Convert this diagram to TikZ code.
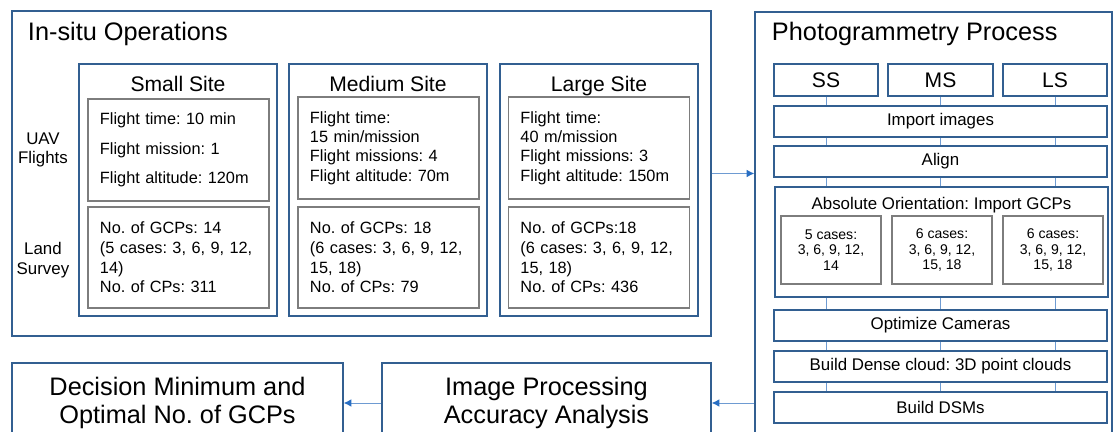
\documentclass[tikz,border=0pt]{standalone}
\usepackage{fontspec}
\setmainfont{Liberation Sans}
\usetikzlibrary{arrows.meta}
\definecolor{boxblue}{RGB}{50,95,145}
\definecolor{linkblue}{RGB}{110,155,210}
\definecolor{arrowblue}{RGB}{40,110,195}
\definecolor{innergray}{RGB}{125,125,125}

\begin{document}
\frenchspacing
\begin{tikzpicture}[x=0.025cm, y=-0.025cm,
  frame/.style={draw=boxblue, line width=0.9pt},
  grayframe/.style={draw=innergray, line width=0.9pt},
  info/.style={grayframe, minimum width=4.525cm, minimum height=2.55cm,
    text width=3.925cm, inner xsep=0.3cm, align=left},
  stage/.style={frame, minimum width=8.325cm, minimum height=0.775cm,
    font=\fontsize{12}{14}\selectfont},
  sitebox/.style={frame, minimum width=2.6cm, minimum height=0.8cm,
    font=\fontsize{15}{17}\selectfont},
  casebox/.style={grayframe, minimum width=2.5cm, minimum height=1.7cm,
    align=center, font=\fontsize{10}{11}\selectfont},
  bigbox/.style={frame, minimum height=2cm, align=center,
    font=\fontsize{18}{20}\selectfont},
  link/.style={draw=linkblue, line width=0.6pt},
  arr/.style={draw=linkblue, line width=0.7pt,
    -{Latex[length=5.5pt,width=5.5pt,color=arrowblue]}}]

\useasboundingbox (0,0) rectangle (1113,432);
\clip (0,0) rectangle (1113,432);

% In-situ operations
\node[frame, minimum width=17.475cm, minimum height=8.125cm]
(insitu) at (361.5,173.5) {};
\node[anchor=base west, font=\fontsize{18}{20}\selectfont]
(insitutitle) at (23,41) {In-situ Operations};

\node[align=center, font=\fontsize{12}{14}\selectfont]
(uavlabel) at (43,150) {UAV\\Flights};
\node[align=center, font=\fontsize{12}{14}\selectfont]
(landlabel) at (43,260) {Land\\Survey};

% Small site
\node[frame, minimum width=4.95cm, minimum height=6.3cm]
(small) at (178,190) {};
\node[anchor=base, font=\fontsize{15}{17}\selectfont]
(smalltitle) at (178,92) {Small Site};
\node[info, font=\fontsize{11.6}{14}\selectfont]
(smalluav) at (178.5,150)
{Flight time: 10 min\\[7pt]Flight mission: 1\\[7pt]Flight altitude: 120m};
\node[info, minimum height=2.525cm, font=\fontsize{11.6}{14}\selectfont]
(smallland) at (178.5,257.5)
{No. of GCPs: 14\\(5 cases: 3, 6, 9, 12,\\14)\\No. of CPs: 311};

% Medium site
\node[frame, minimum width=4.95cm, minimum height=6.3cm]
(medium) at (388,190) {};
\node[anchor=base, font=\fontsize{15}{17}\selectfont]
(mediumtitle) at (388,92) {Medium Site};
\node[info, font=\fontsize{11.6}{13.7}\selectfont]
(mediumuav) at (388.5,148)
{Flight time:\\15 min/mission\\Flight missions: 4\\Flight altitude: 70m};
\node[info, minimum height=2.525cm, font=\fontsize{11.6}{14}\selectfont]
(mediumland) at (388.5,257.5)
{No. of GCPs: 18\\(6 cases: 3, 6, 9, 12,\\15, 18)\\No. of CPs: 79};

% Large site
\node[frame, minimum width=4.95cm, minimum height=6.3cm]
(large) at (599,190) {};
\node[anchor=base, font=\fontsize{15}{17}\selectfont]
(largetitle) at (599,92) {Large Site};
\node[info, font=\fontsize{11.6}{13.7}\selectfont]
(largeuav) at (599,148)
{Flight time:\\40 m/mission\\Flight missions: 3\\Flight altitude: 150m};
\node[info, minimum height=2.525cm, font=\fontsize{11.6}{14}\selectfont]
(largeland) at (599,257.5)
{No. of GCPs:18\\(6 cases: 3, 6, 9, 12,\\15, 18)\\No. of CPs: 436};

% Photogrammetry process
\node[frame, minimum width=8.925cm, minimum height=10.95cm]
(photo) at (933.5,231) {};
\node[anchor=base west, font=\fontsize{18}{20}\selectfont]
(phototitle) at (767,41) {Photogrammetry Process};

\node[sitebox] (ss) at (826,80) {SS};
\node[sitebox, minimum width=2.625cm] (ms) at (940.5,80) {MS};
\node[sitebox] (ls) at (1055,80) {LS};

\node[stage] (import) at (940.5,121.5) {Import images};
\node[stage] (align) at (940.5,161.5) {Align};

\node[frame, minimum width=8.325cm, minimum height=2.75cm]
(orient) at (941.5,242) {};
\node[anchor=base, font=\fontsize{12}{14}\selectfont]
(orienttitle) at (941.5,210) {Absolute Orientation: Import GCPs};
\node[casebox] (casess) at (831,250) {5 cases:\\3, 6, 9, 12,\\14};
\node[casebox] (casems) at (942,250) {6 cases:\\3, 6, 9, 12,\\15, 18};
\node[casebox] (casels) at (1053,250) {6 cases:\\3, 6, 9, 12,\\15, 18};

\node[stage] (optimize) at (940.5,325.5) {Optimize Cameras};
\node[stage] (dense) at (940.5,366.5) {Build Dense cloud: 3D point clouds};
\node[stage] (dsm) at (940.5,407.5) {Build DSMs};

% links between the stages
\foreach \col in {ss,ms,ls}{
  \draw[link] (\col.south) -- (\col.south |- import.north);
  \foreach \up/\down in {import/align, align/orient, orient/optimize,
                         optimize/dense, dense/dsm}
    \draw[link] (\up.south -| \col) -- (\down.north -| \col);
}

% Analysis
\node[bigbox, minimum width=8.225cm]
(analysis) at (546.5,403)
{Image Processing\\Accuracy Analysis};
\node[bigbox, minimum width=8.275cm]
(decision) at (177.5,403)
{Decision Minimum and\\Optimal No. of GCPs};

% Arrows
\draw[arr] (insitu.east) -- (insitu.east -| photo.west);
\draw[arr] (analysis.east -| photo.west) -- (analysis.east);
\draw[arr] (analysis.west) -- (decision.east);

\end{tikzpicture}
\end{document}
